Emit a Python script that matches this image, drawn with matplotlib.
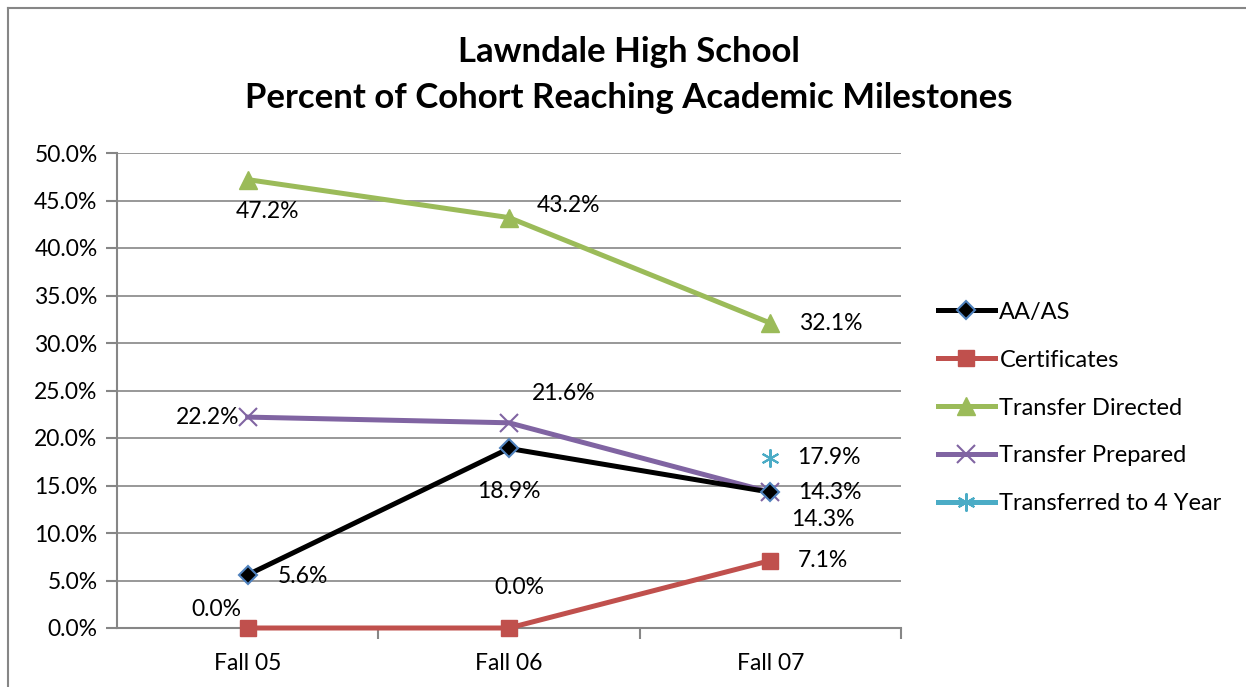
import matplotlib.pyplot as plt
from matplotlib.lines import Line2D
from matplotlib.ticker import PercentFormatter

categorias = ["Fall 05", "Fall 06", "Fall 07"]
aa_as = [5.6, 18.9, 14.3]
certificados = [0.0, 0.0, 7.1]
transfer_directed = [47.2, 43.2, 32.1]
transfer_prepared = [22.2, 21.6, 14.3]
transferred_4yr = [None, None, 17.9]

plt.rcParams["font.family"] = ["Lato", "DejaVu Sans"]

GRIS = "#868686"

fig = plt.figure(figsize=(12.46, 6.87), dpi=100)
ax = fig.add_axes([117 / 1246, 59 / 687, 784 / 1246, 475 / 687])

x = list(range(len(categorias)))
lw = 3.6

ax.plot(x, transfer_directed, color="#9BBB59", lw=lw, marker="^", ms=13,
        mec="#9BBB59", mfc="#9BBB59", label="Transfer Directed", zorder=3)
ax.plot(x, aa_as, color="black", lw=lw, marker="D", ms=9,
        mfc="black", mec="#4F81BD", mew=1.5, label="AA/AS", zorder=4)
ax.plot(x, certificados, color="#C0504D", lw=lw, marker="s", ms=12,
        mfc="#C0504D", mec="#C0504D", label="Certificates", zorder=4,
        clip_on=False)
ax.plot(x, transfer_prepared, color="#8064A2", lw=lw, marker="x", ms=13,
        mew=1.5, label="Transfer Prepared", zorder=3)
x4 = [i for i, v in zip(x, transferred_4yr) if v is not None]
y4 = [v for v in transferred_4yr if v is not None]
ax.plot(x4, y4, color="#4BACC6", lw=lw, marker=(6, 2, 0), ms=13, mew=1.5,
        label="Transferred to 4 Year", zorder=3)

# etiquetas de datos: desplazamientos en pixeles
def etiqueta(i, v, dx, dy):
    ax.annotate(f"{v:.1f}%", (i, v), xytext=(dx * 0.72, dy * 0.72),
                textcoords="offset points", ha="center", va="center",
                fontsize=16.5, zorder=5, annotation_clip=False)

for i, (v, d) in enumerate(zip(transfer_directed, [(20, -32), (59, 12), (60, 0)])):
    etiqueta(i, v, *d)
for i, (v, d) in enumerate(zip(transfer_prepared, [(-40, 0), (55, 29), (53, -27)])):
    etiqueta(i, v, *d)
for i, (v, d) in enumerate(zip(aa_as, [(55, -2), (0, -43), (60, 0)])):
    etiqueta(i, v, *d)
for i, (v, d) in enumerate(zip(certificados, [(-31, 19), (10, 40), (53, 0)])):
    etiqueta(i, v, *d)
etiqueta(2, transferred_4yr[2], 59, 0)

ax.set_xlim(-0.5, 2.5)
ax.set_ylim(0, 50)
ax.set_yticks(range(0, 51, 5))
ax.yaxis.set_major_formatter(PercentFormatter(decimals=1))
ax.set_xticks(x)
ax.set_xticklabels(categorias)
ax.set_xticks([0.5, 1.5, 2.5], minor=True)
ax.tick_params(axis="x", which="major", length=0, pad=18, labelsize=16.5)
ax.tick_params(axis="x", which="minor", length=8, color=GRIS, width=1.5)
ax.tick_params(axis="y", length=8, color=GRIS, width=1.5, labelsize=16.5, pad=6)
ax.grid(axis="y", color=GRIS, lw=1.2)
ax.set_axisbelow(True)
for lado in ["top", "right"]:
    ax.spines[lado].set_visible(False)
ax.spines["left"].set_color(GRIS)
ax.spines["left"].set_linewidth(1.5)
ax.spines["bottom"].set_color(GRIS)
ax.spines["bottom"].set_linewidth(1.5)

fig.text(0.505, 1 - 52 / 687, "Lawndale High School", ha="center", va="center",
         fontsize=25, fontweight="bold")
fig.text(0.505, 1 - 98 / 687, "Percent of Cohort Reaching Academic Milestones",
         ha="center", va="center", fontsize=25, fontweight="bold")

# borde del grafico
fig.add_artist(Line2D([8 / 1246, 8 / 1246], [0, 1 - 8 / 687], color=GRIS, lw=1.5))
fig.add_artist(Line2D([8 / 1246, 1], [1 - 8 / 687, 1 - 8 / 687], color=GRIS, lw=1.5))

handles, labels = ax.get_legend_handles_labels()
orden = ["AA/AS", "Certificates", "Transfer Directed", "Transfer Prepared",
         "Transferred to 4 Year"]
h = [handles[labels.index(n)] for n in orden]
fig.legend(h, orden, loc="center left", bbox_to_anchor=(938 / 1246, 1 - 408 / 687),
           frameon=False, fontsize=17, handlelength=2.4, handletextpad=0.2,
           labelspacing=1.14, borderpad=0, borderaxespad=0)

fig.savefig("out.png", dpi=100)
